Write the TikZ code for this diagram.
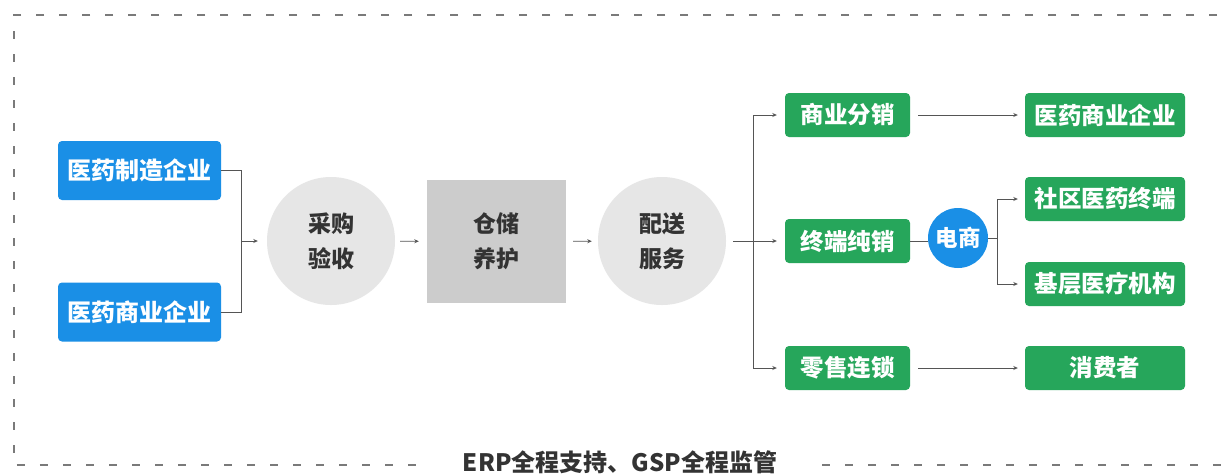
\documentclass[tikz,border=0pt]{standalone}
\usepackage{fontspec}
\setmainfont{Noto Sans CJK SC}
\usetikzlibrary{arrows.meta}
\definecolor{bluebox}{HTML}{1A8FE6}
\definecolor{greenbox}{HTML}{26A65B}
\definecolor{circgray}{HTML}{E6E6E6}
\definecolor{boxgray}{HTML}{CCCCCC}
\definecolor{txtdark}{HTML}{333333}
\definecolor{linegray}{HTML}{555555}
\definecolor{framegray}{HTML}{7A7A7A}
\begin{document}
\begin{tikzpicture}[x=1pt,y=-1pt,
  bluenode/.style={rectangle,rounded corners=4pt,fill=bluebox,text=white,font=\fontsize{24}{28}\selectfont\bfseries,minimum width=163pt,minimum height=59pt,inner sep=0pt},
  greennode/.style={rectangle,rounded corners=4pt,fill=greenbox,text=white,font=\fontsize{23.5}{27}\selectfont\bfseries,minimum height=44pt,inner sep=0pt},
  graycirc/.style={circle,fill=circgray,text=txtdark,minimum size=128pt,inner sep=0pt,align=center,font=\fontsize{23}{35}\selectfont\bfseries},
  conn/.style={draw=linegray,line width=0.9pt},
  arr/.style={conn,-{Stealth[length=4.5pt,width=4pt]}},
  frame/.style={draw=framegray,line width=2pt,dash pattern=on 8pt off 15pt}
]
\useasboundingbox (0,0) rectangle (1221,475);
\clip (0,0) rectangle (1221,475);
\fill[white] (0,0) rectangle (1221,475);
% frame
\draw[frame] (1240,15) -- (14,15) -- (14,465) -- (1240,465);
\node[fill=white,text=txtdark,font=\fontsize{24}{28}\selectfont\bfseries,inner xsep=38pt,inner ysep=4pt] (lbl) at (620,462) {ERP全程支持、GSP全程监管};
% nodes
\node[bluenode] (b1) at (139.5,170.5) {医药制造企业};
\node[bluenode] (b2) at (139.5,312) {医药商业企业};
\node[graycirc] (c1) at (331,241) {采购\\验收};
\node[rectangle,fill=boxgray,text=txtdark,minimum width=139pt,minimum height=123pt,inner sep=0pt,align=center,font=\fontsize{23}{35}\selectfont\bfseries] (g) at (496.5,241.5) {仓储\\养护};
\node[graycirc] (c2) at (662,241) {配送\\服务};
\node[greennode,minimum width=125pt] (ga) at (847.5,115) {商业分销};
\node[greennode,minimum width=125pt] (gb) at (847.5,241) {终端纯销};
\node[greennode,minimum width=125pt] (gc) at (847.5,368) {零售连锁};
\node[circle,fill=bluebox,text=white,minimum size=60pt,inner sep=0pt,font=\fontsize{22.5}{26}\selectfont\bfseries] (ec) at (958,238) {电商};
\node[greennode,minimum width=160pt] (ha) at (1105,115) {医药商业企业};
\node[greennode,minimum width=160pt] (hb) at (1105,199) {社区医药终端};
\node[greennode,minimum width=160pt] (hc) at (1105,284) {基层医疗机构};
\node[greennode,minimum width=160pt] (hd) at (1105,368) {消费者};
% junctions
\coordinate (j1) at (241,241);
\coordinate (j2) at (753,241);
\coordinate (j3) at (997,238);
% connectors
\draw[conn] (b1.east) -| (j1);
\draw[conn] (b2.east) -| (j1);
\draw[arr,shorten >=9pt] (j1) -- (c1);
\draw[arr,shorten <=5pt,shorten >=8pt] (c1) -- (g);
\draw[arr,shorten <=7pt,shorten >=6pt] (g) -- (c2);
\draw[conn,shorten <=7pt] (c2) -- (j2);
\draw[arr,shorten >=8pt] (j2) |- (ga.west);
\draw[arr,shorten >=8pt] (j2) -- (gb.west);
\draw[arr,shorten >=8pt] (j2) |- (gc.west);
\draw[arr,shorten <=8pt,shorten >=7pt] (ga) -- (ha);
\draw[arr,shorten <=8pt,shorten >=7pt] (gc) -- (hd);
\draw[conn] (gb.east) -- (ec.west |- gb.east);
\draw[conn] (ec.east) -- (j3);
\draw[arr,shorten >=7pt] (j3) |- (hb.west);
\draw[arr,shorten >=7pt] (j3) |- (hc.west);
\end{tikzpicture}
\end{document}
